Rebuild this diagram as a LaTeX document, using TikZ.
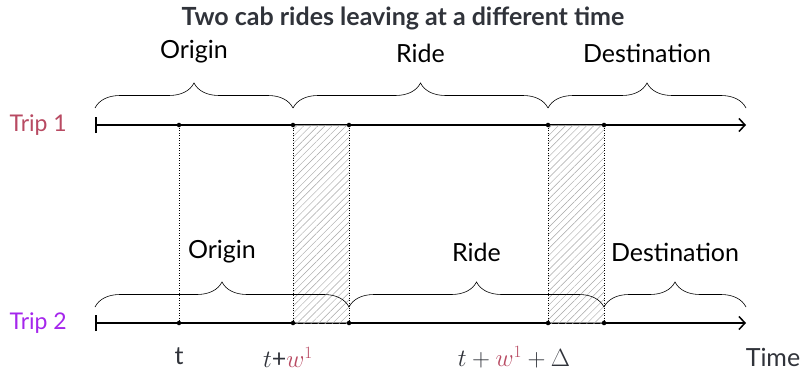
\documentclass[tikz,border=0pt]{standalone}
\usepackage{fontspec}
\setmainfont{Lato}
\usetikzlibrary{decorations.pathreplacing,patterns.meta,arrows.meta}
\definecolor{tripOne}{HTML}{B84A62}
\definecolor{tripTwo}{HTML}{A526EC}
\definecolor{inkGray}{HTML}{30333A}

\tikzset{
  lbl/.style={font=\fontsize{25}{30}\selectfont, text=black},
  triplbl/.style={font=\fontsize{23}{28}\selectfont, anchor=east, inner sep=0},
  timeaxis/.style={line width=1.5pt, {Bar[width=16pt]}-{Straight Barb[length=6pt, width=13pt]}},
  spanbrace/.style={decorate, decoration={brace, amplitude=25pt}, line width=0.6pt},
  waitzone/.style={draw=none, preaction={fill=white, fill opacity=0.55},
    pattern={Lines[angle=45, distance=5pt, line width=0.45pt]}, pattern color=gray!70},
  tickdot/.style={circle, fill=black, inner sep=1.6pt}
}

\begin{document}
\begin{tikzpicture}[x=1pt, y=1pt]
  \useasboundingbox (0,0) rectangle (803,373);

  % Title
  \node[font=\fontsize{25}{30}\selectfont\bfseries, text=inkGray] (title) at (403,355) {Two cab rides leaving at a different time};

  % Trip labels
  \node[triplbl, text=tripOne] (trip1) at (67,248) {Trip 1};
  \node[triplbl, text=tripTwo] (trip2) at (67,50) {Trip 2};

  % Points on both axes
  \foreach \name/\x in {s/95, t/179, a/293, b/349, c/548, d/604, e/746} {
    \coordinate (\name1) at (\x,248);
    \coordinate (\name2) at (\x,50);
  }

  % Axes
  \draw[timeaxis] (s1) -- (e1);
  \draw[timeaxis] (s2) -- (e2);

  % Waiting windows
  \path[waitzone] (a2) rectangle (b1);
  \path[waitzone] (c2) rectangle (d1);

  % Dotted guides
  \foreach \name in {t, a, b, c, d}
    \draw[dotted, line width=0.5pt] (\name1) -- (\name2);

  % Dots
  \foreach \name in {t, a, b, c, d} {
    \node[tickdot] at (\name1) {};
    \node[tickdot] at (\name2) {};
  }

  % Trip 1 braces
  \draw[spanbrace] ([yshift=17pt]s1) -- ([yshift=17pt]a1) node[lbl, midway, yshift=56pt] (org1) {Origin};
  \draw[spanbrace] ([yshift=17pt]a1) -- ([yshift=17pt]c1) node[lbl, midway, yshift=55pt] (ride1) {Ride};
  \draw[spanbrace] ([yshift=17pt]c1) -- ([yshift=17pt]e1) node[lbl, midway, yshift=55pt] (dest1) {Destination};

  % Trip 2 braces
  \draw[spanbrace] ([yshift=16pt]s2) -- ([yshift=16pt]b2) node[lbl, midway, yshift=55pt] (org2) {Origin};
  \draw[spanbrace] ([yshift=16pt]b2) -- ([yshift=16pt]d2) node[lbl, midway, yshift=55pt] (ride2) {Ride};
  \draw[spanbrace] ([yshift=16pt]d2) -- ([yshift=16pt]e2) node[lbl, midway, yshift=55pt] (dest2) {Destination};

  % Time labels
  \node[lbl, text=inkGray] (lt) at (179,17) {t};
  \node[lbl, text=inkGray] (ltw) at (288,16) {$t$+\textcolor{tripOne}{$w^1$}};
  \node[lbl, text=inkGray] (ltwd) at (514,16) {$t + \textcolor{tripOne}{w^1} + \Delta$};
  \node[lbl, text=inkGray] (ltime) at (773,16) {Time};
\end{tikzpicture}
\end{document}
